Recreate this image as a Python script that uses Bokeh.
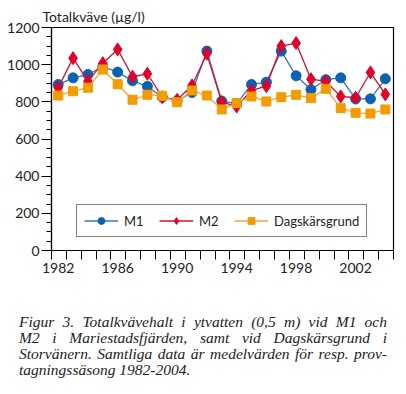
from bokeh.plotting import figure
from bokeh.models import (ColumnDataSource, FixedTicker, LinearAxis, Range1d, Legend, LegendItem,
                          NumeralTickFormatter, Div)
from bokeh.layouts import column
from bokeh.transform import dodge
from bokeh.embed import file_html
from bokeh.resources import INLINE

years = list(range(1982, 2005))
m1 = [893, 929, 947, 990, 960, 913, 883, 825, 805, 850, 1073, 804, 790, 893,
      906, 1073, 940, 866, 919, 929, 816, 816, 924]
m2 = [876, 1035, 911, 1008, 1082, 935, 951, 825, 811, 888, 1059, 798, 775, 861,
      884, 1100, 1116, 922, 910, 829, 822, 958, 840]
dagsk = [834, 857, 876, 974, 895, 811, 838, 832, 798, 861, 834, 759, 793, 829,
         802, 825, 838, 820, 870, 766, 741, 737, 759]
x_tick_years = list(range(1982, 2006))
x_label_years = [1982, 1986, 1990, 1994, 1998, 2002]
y_ticks = [0, 200, 400, 600, 800, 1000, 1200]
y_minor = list(range(0, 1201, 50))
x_start, x_end = 1982, 2005
y_start, y_end = 0, 1200
mid = 0.45  # values plotted at mid-season position within each year

FONT = "Lato"
TXT = "#222222"

src = ColumnDataSource(dict(year=years, m1=m1, m2=m2, dagsk=dagsk))

p = figure(width=398, height=311, output_backend="svg", toolbar_location=None,
           x_range=Range1d(x_start, x_end), y_range=Range1d(y_start, y_end),
           min_border_left=51, min_border_right=5, min_border_top=27, min_border_bottom=61,
           x_axis_location=None)
p.grid.visible = False
p.outline_line_color = "black"
p.outline_line_width = 1.2
p.background_fill_color = "white"
p.border_fill_color = "white"

p.title.text = "Totalkväve (µg/l)"
p.title.align = "left"
p.title.offset = -9
p.title.standoff = 5
p.title.text_font = FONT
p.title.text_font_size = "14px"
p.title.text_font_style = "normal"
p.title.text_color = TXT

# y axis
ya = p.yaxis[0]
ya.ticker = FixedTicker(ticks=y_ticks, minor_ticks=y_minor)
ya.major_tick_out = 10
ya.major_tick_in = 0
ya.minor_tick_out = 5
ya.minor_tick_in = 0
ya.major_label_standoff = 2
ya.major_label_text_font = FONT
ya.major_label_text_font_size = "14px"
ya.major_label_text_color = TXT
ya.axis_line_color = "black"
ya.axis_line_width = 1.2
ya.major_tick_line_color = "black"
ya.minor_tick_line_color = "black"

# x axis: tick marks at every year boundary (no labels)
xa = LinearAxis(ticker=FixedTicker(ticks=x_tick_years, minor_ticks=[]))
xa.major_tick_out = 9
xa.major_tick_in = 0
xa.major_label_text_color = None
xa.major_label_text_font_size = "1px"
xa.major_label_standoff = 0
xa.axis_line_color = "black"
xa.axis_line_width = 1.2
xa.major_tick_line_color = "black"
p.add_layout(xa, "below")

# x axis labels at mid-year
xl = LinearAxis(ticker=FixedTicker(ticks=[y + mid for y in x_label_years], minor_ticks=[]),
                formatter=NumeralTickFormatter(format="0"))
xl.axis_line_color = None
xl.major_tick_line_color = None
xl.major_tick_out = 0
xl.major_tick_in = 0
xl.major_label_standoff = 3
xl.major_label_text_font = FONT
xl.major_label_text_font_size = "14px"
xl.major_label_text_color = TXT
p.add_layout(xl, "below")

blue_line, blue_mk = "#3a74b8", "#0b62b0"
red_line, red_mk = "#d21030", "#e0002a"
org_line, org_mk = "#f2a540", "#f39c00"

xs = dodge("year", mid)
l1 = p.line(x=xs, y="m1", source=src, line_color=blue_line, line_width=1.3)
s1 = p.scatter(x=xs, y="m1", source=src, marker="circle", size=10, fill_color=blue_mk, line_color=blue_mk)
l2 = p.line(x=xs, y="m2", source=src, line_color=red_line, line_width=1.3)
s2 = p.scatter(x=xs, y="m2", source=src, marker="diamond", size=13, fill_color=red_mk, line_color=red_mk)
l3 = p.line(x=xs, y="dagsk", source=src, line_color=org_line, line_width=1.3)
s3 = p.scatter(x=xs, y="dagsk", source=src, marker="square", size=9, fill_color=org_mk, line_color=org_mk)

legend = Legend(items=[LegendItem(label="M1", renderers=[l1, s1]),
                       LegendItem(label="M2", renderers=[l2, s2]),
                       LegendItem(label="Dagskärsgrund", renderers=[l3, s3])],
                orientation="horizontal", location=(25, 13))
legend.label_text_font = FONT
legend.label_text_font_size = "13px"
legend.label_text_color = TXT
legend.glyph_width = 34
legend.glyph_height = 17
legend.label_standoff = 6
legend.spacing = 15
legend.padding = 7
legend.margin = 0
legend.border_line_color = "black"
legend.border_line_width = 1
legend.background_fill_alpha = 1
p.add_layout(legend, "center")

line_css = "display:block;text-align:justify;text-align-last:justify;white-space:nowrap;"
last_css = "display:block;text-align:left;white-space:nowrap;"
caption = Div(
    text=(f'<div style="font-family:\'Liberation Serif\';font-style:italic;font-size:15.5px;'
          f'line-height:16px;color:#222;width:368px;">'
          f'<span style="{line_css}">Figur 3. Totalkvävehalt i ytvatten (0,5 m) vid M1 och</span>'
          f'<span style="{line_css}">M2 i Mariestadsfjärden, samt vid Dagskärsgrund i</span>'
          f'<span style="{line_css}">Storvänern. Samtliga data är medelvärden för resp. prov-</span>'
          f'<span style="{last_css}">tagningssäsong 1982-2004.</span>'
          f'</div>'),
    width=368, height=66, margin=(3, 0, 0, 19))

layout = column(p, caption, spacing=0)
open("out.html", "w").write(file_html(layout, INLINE))
